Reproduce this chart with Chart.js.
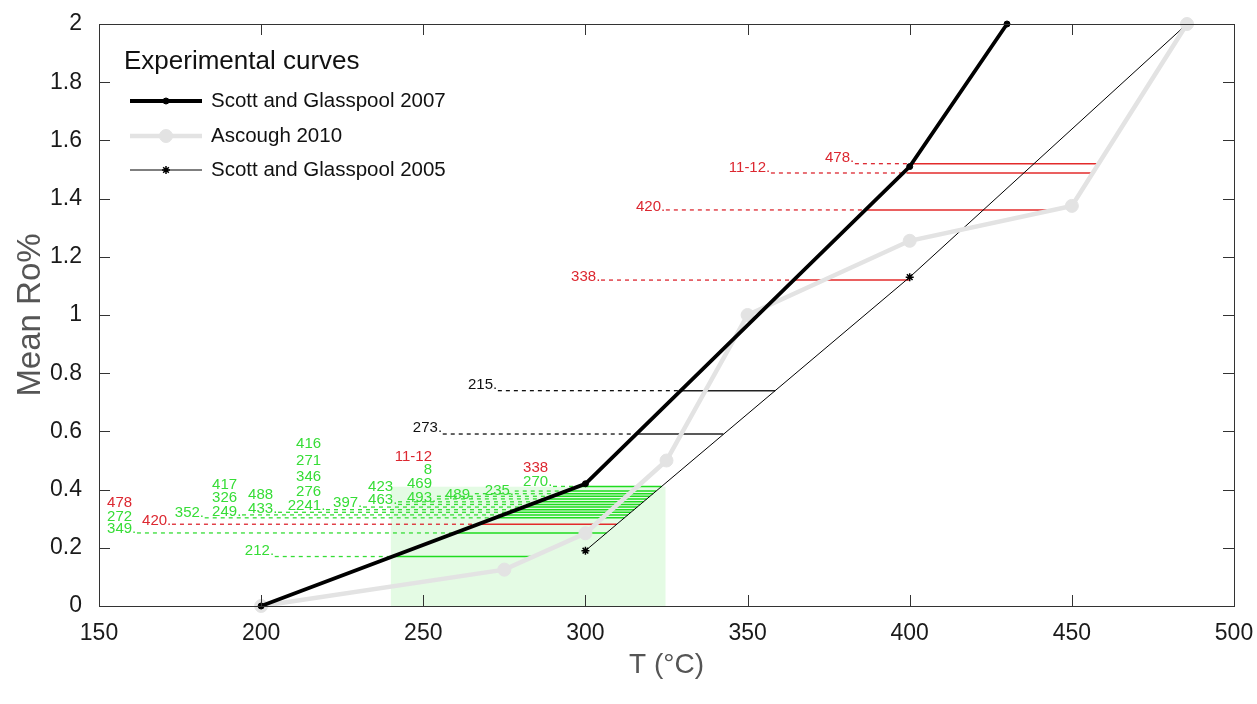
<!DOCTYPE html>
<html>
<head>
<meta charset="utf-8">
<script src="https://cdn.jsdelivr.net/npm/chart.js@4.4.0/dist/chart.umd.min.js"></script>
<style>
html, body { margin: 0; padding: 0; background: #fff; }
#wrap { width: 1257px; height: 704px; position: relative; }
</style>
</head>
<body>
<div id="wrap"><canvas id="roChart"></canvas></div>
<script>
// experimental curves (T in °C, mean Ro%)
const sg2007T = [200, 300, 400, 430];
const sg2007Ro = [0, 0.42, 1.51, 2];
const ascoughT = [200, 275, 300, 325, 350, 400, 450, 485.5];
const ascoughRo = [0, 0.125, 0.25, 0.5, 1.0, 1.255, 1.375, 2];
const sg2005T = [300, 400, 485.5];
const sg2005Ro = [0.19, 1.13, 2];

// samples: Ro level, start of dashed leader, temperature range (solid)
const lineRo    = [1.52, 1.488, 1.361, 1.12, 0.74, 0.591, 0.411, 0.395, 0.386, 0.377, 0.368, 0.358, 0.349, 0.340, 0.331, 0.322, 0.313, 0.303, 0.281, 0.251, 0.17];
const lineDashT = [383.1, 357.2, 324.8, 304.8, 273, 256, 290, 278.2, 265.9, 254.2, 254.2, 242.2, 242.2, 231.4, 220, 205.2, 194.1, 182.6, 172.5, 161.7, 204.2];
const lineTmin  = [400.5, 399, 386.8, 364.5, 329.5, 315.5, 297.9, 294.0, 291.9, 289.8, 287.6, 285.2, 283.1, 281.0, 278.8, 276.7, 274.5, 272.1, 266.9, 259.8, 240.5];
const lineTmax  = [458, 456.3, 443, 400, 358.5, 342.5, 323.5, 321.8, 320.9, 319.9, 318.9, 317.9, 316.9, 316.0, 315.0, 314.0, 313.1, 312.0, 309.7, 306.5, 284];
const lineKind  = ['r', 'r', 'r', 'r', 'k', 'k', 'g', 'g', 'g', 'g', 'g', 'g', 'g', 'g', 'g', 'g', 'g', 'g', 'r', 'g', 'g'];

// sample labels (right edge of digits, centre Ro)
const labelText = ['478', '11-12', '420', '338', '215', '273',
  '478', '272', '349', '420', '352', '417', '326', '249', '488', '433',
  '416', '271', '346', '276', '2241', '397', '423', '463',
  '11-12', '8', '469', '493', '489', '235', '338', '270', '212'];
const labelT = [381.6, 355.7, 323.3, 303.3, 271.5, 254.5,
  160.2, 160.2, 160.2, 171.0, 181.1, 192.6, 192.6, 192.6, 203.7, 203.7,
  218.5, 218.5, 218.5, 218.5, 218.5, 229.9, 240.7, 240.7,
  252.7, 252.7, 252.7, 252.7, 264.4, 276.7, 288.5, 288.5, 202.7];
const labelRo = [1.540, 1.505, 1.371, 1.131, 0.759, 0.612,
  0.354, 0.306, 0.265, 0.292, 0.320, 0.416, 0.371, 0.323, 0.381, 0.333,
  0.557, 0.498, 0.443, 0.392, 0.344, 0.354, 0.409, 0.364,
  0.512, 0.467, 0.419, 0.371, 0.381, 0.395, 0.474, 0.426, 0.189];
const labelKind = ['r', 'r', 'r', 'r', 'k', 'k',
  'r', 'g', 'g', 'r', 'g', 'g', 'g', 'g', 'g', 'g',
  'g', 'g', 'g', 'g', 'g', 'g', 'g', 'g',
  'r', 'g', 'g', 'g', 'g', 'g', 'r', 'g', 'g'];
const labelDot = [1, 1, 1, 1, 1, 1,
  0, 0, 1, 1, 1, 0, 0, 1, 0, 1,
  0, 0, 0, 0, 1, 1, 0, 1,
  0, 0, 0, 1, 1, 1, 0, 1, 1];

// green temperature window
const bandT = [240, 324.7];
const bandRo = [0, 0.41];

const kindColor = { r: '#dc2730', g: '#36dd36', k: '#111111' };
const kindSolid = { r: '#e32b2b', g: '#1fdc1f', k: '#222222' };

const font = "'Liberation Sans', Arial, sans-serif";

const pts = (xs, ys) => xs.map((t, i) => ({ x: t, y: ys[i] }));

const samplesPlugin = {
    id: 'samples',
    beforeDatasetsDraw(chart) {
        const { ctx, scales: { x, y } } = chart;
        ctx.save();

        // temperature window
        const bx0 = x.getPixelForValue(bandT[0]);
        const bx1 = x.getPixelForValue(bandT[1]);
        const by0 = y.getPixelForValue(bandRo[0]);
        const by1 = y.getPixelForValue(bandRo[1]);
        ctx.fillStyle = '#e4fbe4';
        ctx.fillRect(bx0, by1, bx1 - bx0, by0 - by1);

        // leaders and ranges
        lineRo.forEach((ro, i) => {
            const py = y.getPixelForValue(ro);
            ctx.strokeStyle = kindColor[lineKind[i]];
            ctx.lineWidth = 1.3;
            ctx.setLineDash([4, 4]);
            ctx.beginPath();
            ctx.moveTo(x.getPixelForValue(lineDashT[i]), py);
            ctx.lineTo(x.getPixelForValue(lineTmin[i]), py);
            ctx.stroke();

            ctx.setLineDash([]);
            ctx.strokeStyle = kindSolid[lineKind[i]];
            ctx.lineWidth = 1.5;
            ctx.beginPath();
            ctx.moveTo(x.getPixelForValue(lineTmin[i]), py);
            ctx.lineTo(x.getPixelForValue(lineTmax[i]), py);
            ctx.stroke();
        });

        // labels
        ctx.font = '15px ' + font;
        ctx.textBaseline = 'middle';
        ctx.textAlign = 'left';
        labelText.forEach((txt, i) => {
            const w = ctx.measureText(txt).width;
            const px = x.getPixelForValue(labelT[i]) - w;
            ctx.fillStyle = kindColor[labelKind[i]];
            ctx.fillText(txt + (labelDot[i] ? '.' : ''), px, y.getPixelForValue(labelRo[i]));
        });
        ctx.restore();
    },
    afterDatasetsDraw(chart) {
        const { ctx, chartArea: a, scales: { x, y } } = chart;
        ctx.save();
        ctx.strokeStyle = '#333';
        ctx.lineWidth = 1;
        ctx.strokeRect(Math.round(a.left) + 0.5, Math.round(a.top) + 0.5,
            Math.round(a.right - a.left), Math.round(a.bottom - a.top));
        ctx.beginPath();
        x.ticks.forEach(t => {
            const px = Math.round(x.getPixelForValue(t.value)) + 0.5;
            ctx.moveTo(px, a.bottom); ctx.lineTo(px, a.bottom - 11);
            ctx.moveTo(px, a.top); ctx.lineTo(px, a.top + 11);
        });
        y.ticks.forEach(t => {
            const py = Math.round(y.getPixelForValue(t.value)) + 0.5;
            ctx.moveTo(a.left, py); ctx.lineTo(a.left + 11, py);
            ctx.moveTo(a.right, py); ctx.lineTo(a.right - 11, py);
        });
        ctx.stroke();
        ctx.restore();
    },
    afterDraw(chart) {
        // legend
        const { ctx } = chart;
        ctx.save();
        ctx.fillStyle = '#111';
        ctx.textBaseline = 'middle';
        ctx.font = '26px ' + font;
        ctx.fillText('Experimental curves', 124, 62);
        ctx.font = '20.5px ' + font;
        const rows = [101, 136, 170];
        chart.data.datasets.forEach((ds, i) => {
            const ly = rows[i];
            ctx.strokeStyle = ds.borderColor;
            ctx.lineWidth = ds.borderWidth;
            ctx.beginPath();
            ctx.moveTo(130, ly); ctx.lineTo(202, ly);
            ctx.stroke();
            ctx.fillStyle = ds.pointBackgroundColor;
            ctx.strokeStyle = ds.pointBorderColor;
            ctx.lineWidth = ds.pointBorderWidth;
            Chart.helpers.drawPoint(ctx, {
                pointStyle: ds.pointStyle || 'circle',
                radius: ds.pointRadius,
                borderWidth: ds.pointBorderWidth,
                rotation: 0
            }, 166, ly);
            ctx.fillStyle = '#111';
            ctx.fillText(ds.label, 211, ly);
        });
        ctx.restore();
    }
};

new Chart(document.getElementById('roChart'), {
    type: 'line',
    data: {
        datasets: [{
            label: 'Scott and Glasspool 2007',
            data: pts(sg2007T, sg2007Ro),
            borderColor: '#000',
            borderWidth: 3.8,
            pointRadius: 3,
            pointBackgroundColor: '#000',
            pointBorderColor: '#000',
            pointBorderWidth: 1,
            order: 0,
            clip: false
        }, {
            label: 'Ascough 2010',
            data: pts(ascoughT, ascoughRo),
            borderColor: '#e3e3e3',
            borderWidth: 4.5,
            pointRadius: 6.5,
            pointBackgroundColor: '#e3e3e3',
            pointBorderColor: '#e3e3e3',
            pointBorderWidth: 1,
            order: 1,
            clip: false
        }, {
            label: 'Scott and Glasspool 2005',
            data: pts(sg2005T, sg2005Ro),
            borderColor: '#000',
            borderWidth: 1,
            pointStyle: 'star',
            pointRadius: 4,
            pointBackgroundColor: '#000',
            pointBorderColor: '#000',
            pointBorderWidth: 1.5,
            order: 2,
            clip: false
        }]
    },
    options: {
        animation: false,
        responsive: true,
        maintainAspectRatio: false,
        layout: { padding: { top: 24, right: 23, left: 0, bottom: 0 } },
        plugins: { legend: { display: false }, tooltip: { enabled: false } },
        scales: {
            x: {
                type: 'linear',
                min: 150,
                max: 500,
                grid: { display: false, drawTicks: false },
                border: { display: false },
                ticks: { stepSize: 50, padding: 14, color: '#1a1a1a', font: { family: font, size: 23 } },
                title: { display: true, text: 'T (°C)', color: '#555', font: { family: font, size: 28 }, padding: { top: 0, bottom: 22 } },
                afterFit: s => { s.height = 98; s.paddingLeft = 0; s.paddingRight = 0; }
            },
            y: {
                type: 'linear',
                min: 0,
                max: 2,
                grid: { display: false, drawTicks: false },
                border: { display: false },
                ticks: {
                    stepSize: 0.2, padding: 17, color: '#1a1a1a', font: { family: font, size: 23 },
                    callback: v => String(Math.round(v * 10) / 10)
                },
                title: { display: true, text: 'Mean Ro%', color: '#555', font: { family: font, size: 33 }, padding: { top: 11, bottom: 0 } },
                afterFit: s => { s.width = 99; s.paddingTop = 0; s.paddingBottom = 0; }
            }
        }
    },
    plugins: [samplesPlugin]
});
</script>
</body>
</html>
